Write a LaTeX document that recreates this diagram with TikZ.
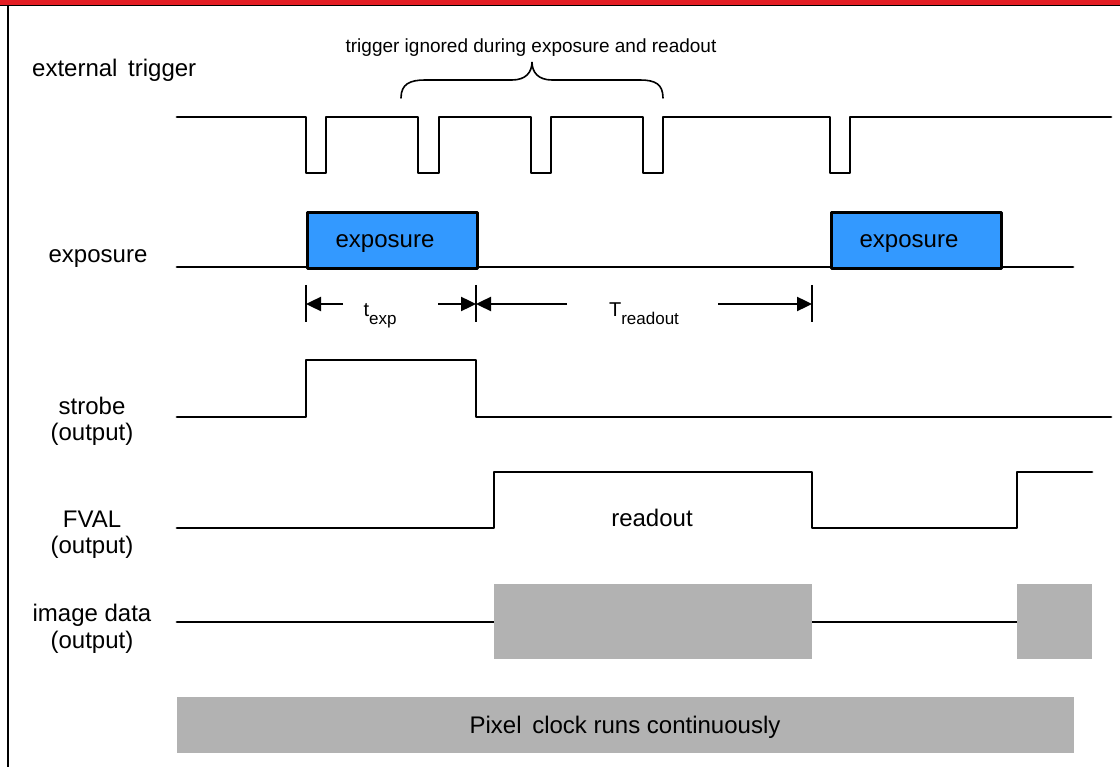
\documentclass[tikz,border=0pt]{standalone}
\usepackage{fontspec}
\setmainfont{Liberation Sans}
\usetikzlibrary{arrows.meta}
\definecolor{hdrred}{HTML}{E31D24}
\definecolor{expblue}{HTML}{3399FF}
\definecolor{datagray}{HTML}{B2B2B2}
\begin{document}
\begin{tikzpicture}[x=1pt,y=-1pt,
  sig/.style={line width=2.8pt, line join=round, line cap=round},
  lbl/.style={font=\fontsize{24}{26}\selectfont, inner sep=0pt, anchor=base},
  small/.style={font=\fontsize{19}{21}\selectfont, inner sep=0pt, anchor=base},
  expbox/.style={fill=expblue, draw=black, line width=2.8pt, line join=round},
  databox/.style={fill=datagray, draw=none},
  ticksty/.style={line width=2.4pt},
  dimarrow/.style={line width=2.4pt, -{Triangle[length=15pt,width=14pt]}},
  bracesty/.style={line width=1.6pt, line cap=round}]
\useasboundingbox (0,0) rectangle (1120,767);
% frame
\fill[hdrred] (0,0) rectangle (1120,4.6);
\draw[line width=1.6pt] (0,5.4) -- (1120,5.4);
\draw[line width=2pt] (8,5) -- (8,767);

% labels
\node[lbl, anchor=base west] (lext) at (32,77) {external\ \,trigger};
\node[lbl] (lexp) at (98,263) {exposure};
\node[lbl] (lstr) at (92,414) {strobe};
\node[lbl] (lstro) at (92,440) {(output)};
\node[lbl] (lfval) at (92,527) {FVAL};
\node[lbl] (lfvalo) at (92,553) {(output)};
\node[lbl] (limg) at (92,621) {image data};
\node[lbl] (limgo) at (92,648) {(output)};

% brace + top text
\node[small] (ign) at (531,53) {trigger ignored during exposure and readout};
\draw[bracesty] (401,98) .. controls (401,84) and (410,80) .. (425,80) -- (512,80)
  .. controls (526,80) and (532,72) .. (532,62)
  .. controls (532,72) and (538,80) .. (552,80) -- (640,80)
  .. controls (655,80) and (663,84) .. (663,98);

% external trigger
\draw[sig] (177,117) -- (306,117) -- (306,173) -- (326,173) -- (326,117)
  -- (418,117) -- (418,173) -- (439,173) -- (439,117)
  -- (531,117) -- (531,173) -- (551,173) -- (551,117)
  -- (643,117) -- (643,173) -- (663,173) -- (663,117)
  -- (830,117) -- (830,173) -- (850,173) -- (850,117) -- (1111,117);

% exposure
\draw[sig] (177,267) -- (1073,267);
\node[expbox, minimum width=170pt, minimum height=56pt, anchor=north west, inner sep=0pt] (e1) at (306,211) {};
\node[expbox, minimum width=170pt, minimum height=56pt, anchor=north west, inner sep=0pt] (e2) at (830,211) {};
\node[lbl] (e1t) at (385,248) {exposure};
\node[lbl] (e2t) at (909,248) {exposure};

% dimension arrows
\coordinate (d0) at (306,304);
\coordinate (d1) at (476,304);
\coordinate (d2) at (812,304);
\coordinate (a1) at (343,304);
\coordinate (a2) at (438,304);
\coordinate (a3) at (567,304);
\coordinate (a4) at (718,304);
\draw[ticksty] (306,285) -- (306,322);
\draw[ticksty] (476,285) -- (476,322);
\draw[ticksty] (812,285) -- (812,322);
\draw[dimarrow] (a1) -- (d0);
\draw[dimarrow] (a2) -- (d1);
\draw[dimarrow] (a3) -- (d1);
\draw[dimarrow] (a4) -- (d2);
\node[inner sep=0pt, anchor=base] (texp) at (380,317) {\fontsize{20}{20}\selectfont t\raisebox{-8pt}{\fontsize{17}{17}\selectfont exp}};
\node[inner sep=0pt, anchor=base] (trd) at (644,317) {\fontsize{20}{20}\selectfont T\raisebox{-8pt}{\fontsize{17}{17}\selectfont readout}};

% strobe
\draw[sig] (177,417) -- (306,417) -- (306,360) -- (476,360) -- (476,417) -- (1111,417);

% FVAL
\draw[sig] (177,528) -- (494,528) -- (494,472) -- (812,472) -- (812,528)
  -- (1017,528) -- (1017,472) -- (1092,472);
\node[lbl] (rd) at (652,526) {readout};

% image data
\draw[sig] (177,622) -- (494,622);
\draw[sig] (812,622) -- (1017,622);
\node[databox, minimum width=318pt, minimum height=75pt, anchor=north west, inner sep=0pt] (img1) at (494,584) {};
\node[databox, minimum width=75pt, minimum height=75pt, anchor=north west, inner sep=0pt] (img2) at (1017,584) {};

% pixel clock
\node[databox, minimum width=897pt, minimum height=56pt, anchor=north west, inner sep=0pt] (pix) at (177,697) {};
\node[lbl] (pixt) at (625,733) {Pixel\ \,clock runs continuously};
\end{tikzpicture}
\end{document}
